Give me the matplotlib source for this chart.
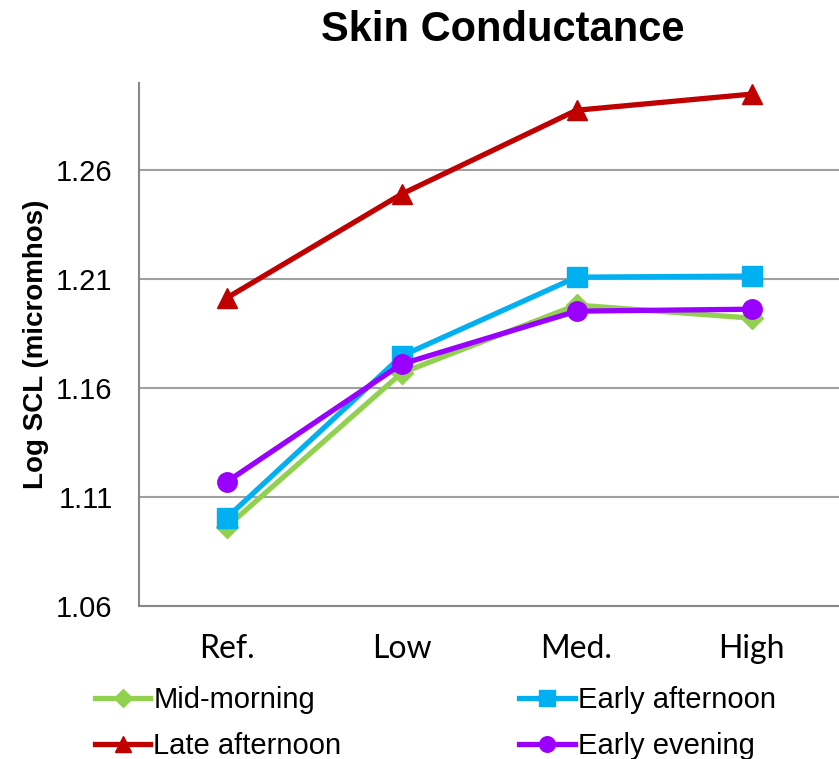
import matplotlib.pyplot as plt

# data
categories = ['Ref.', 'Low', 'Med.', 'High']
mid_morning = [1.0962, 1.1669, 1.1981, 1.1921]
early_afternoon = [1.1004, 1.1747, 1.2109, 1.2114]
late_afternoon = [1.2013, 1.2490, 1.2875, 1.2949]
early_evening = [1.1169, 1.1710, 1.1953, 1.1962]
y_ticks = [1.06, 1.11, 1.16, 1.21, 1.26]

GREEN = '#92D050'
BLUE = '#00B0F0'
RED = '#C00000'
PURPLE = '#9900FF'
GRID = '#A0A0A0'

plt.rcParams['font.family'] = ['Liberation Sans', 'DejaVu Sans']

fig = plt.figure(figsize=(8.39, 7.59), dpi=100)
ax = fig.add_axes([139/839, 1 - 606/759, 1 - 139/839, (606 - 83)/759])

x = list(range(len(categories)))
lw = 3.8

l_mid, = ax.plot(x, mid_morning, color=GREEN, lw=lw, marker='D', ms=11, clip_on=False, zorder=3)
l_eaft, = ax.plot(x, early_afternoon, color=BLUE, lw=lw, marker='s', ms=14, clip_on=False, zorder=4)
l_late, = ax.plot(x, late_afternoon, color=RED, lw=lw, marker='^', ms=15, clip_on=False, zorder=5)
l_eeve, = ax.plot(x, early_evening, color=PURPLE, lw=lw, marker='o', ms=14, clip_on=False, zorder=6)

ax.set_xlim(-0.5, len(categories) - 0.5)
ax.set_ylim(1.06, 1.30)
ax.set_yticks(y_ticks)
ax.set_yticklabels(['%.2f' % v for v in y_ticks], fontsize=21)
ax.set_xticks(x)
ax.set_xticklabels(categories, fontsize=23, family=['Lato', 'DejaVu Sans'])

ax.grid(axis='y', color=GRID, lw=1.5)
ax.set_axisbelow(True)
for s in ['top', 'right']:
    ax.spines[s].set_visible(False)
for s in ['left', 'bottom']:
    ax.spines[s].set_color('#888888')
    ax.spines[s].set_linewidth(1.5)
ax.tick_params(axis='y', length=0, pad=19)
ax.tick_params(axis='x', length=0, pad=20)

ax.set_ylabel('Log SCL (micromhos)', fontsize=20, fontweight='bold', labelpad=5)

fig.text(503/839, 1 - 30/759, 'Skin Conductance', ha='center', va='center',
         fontsize=30, fontweight='bold')

fig.legend([l_mid, l_late, l_eaft, l_eeve],
           ['Mid-morning', 'Late afternoon', 'Early afternoon', 'Early evening'],
           ncol=2, loc='upper left', bbox_to_anchor=(95/839, 1 - 686/759),
           frameon=False, fontsize=21, handlelength=1.9, handletextpad=0.1,
           columnspacing=6.1, labelspacing=0.62, borderaxespad=0, borderpad=0,
           markerscale=0.8)

fig.savefig('out.png', dpi=100)
